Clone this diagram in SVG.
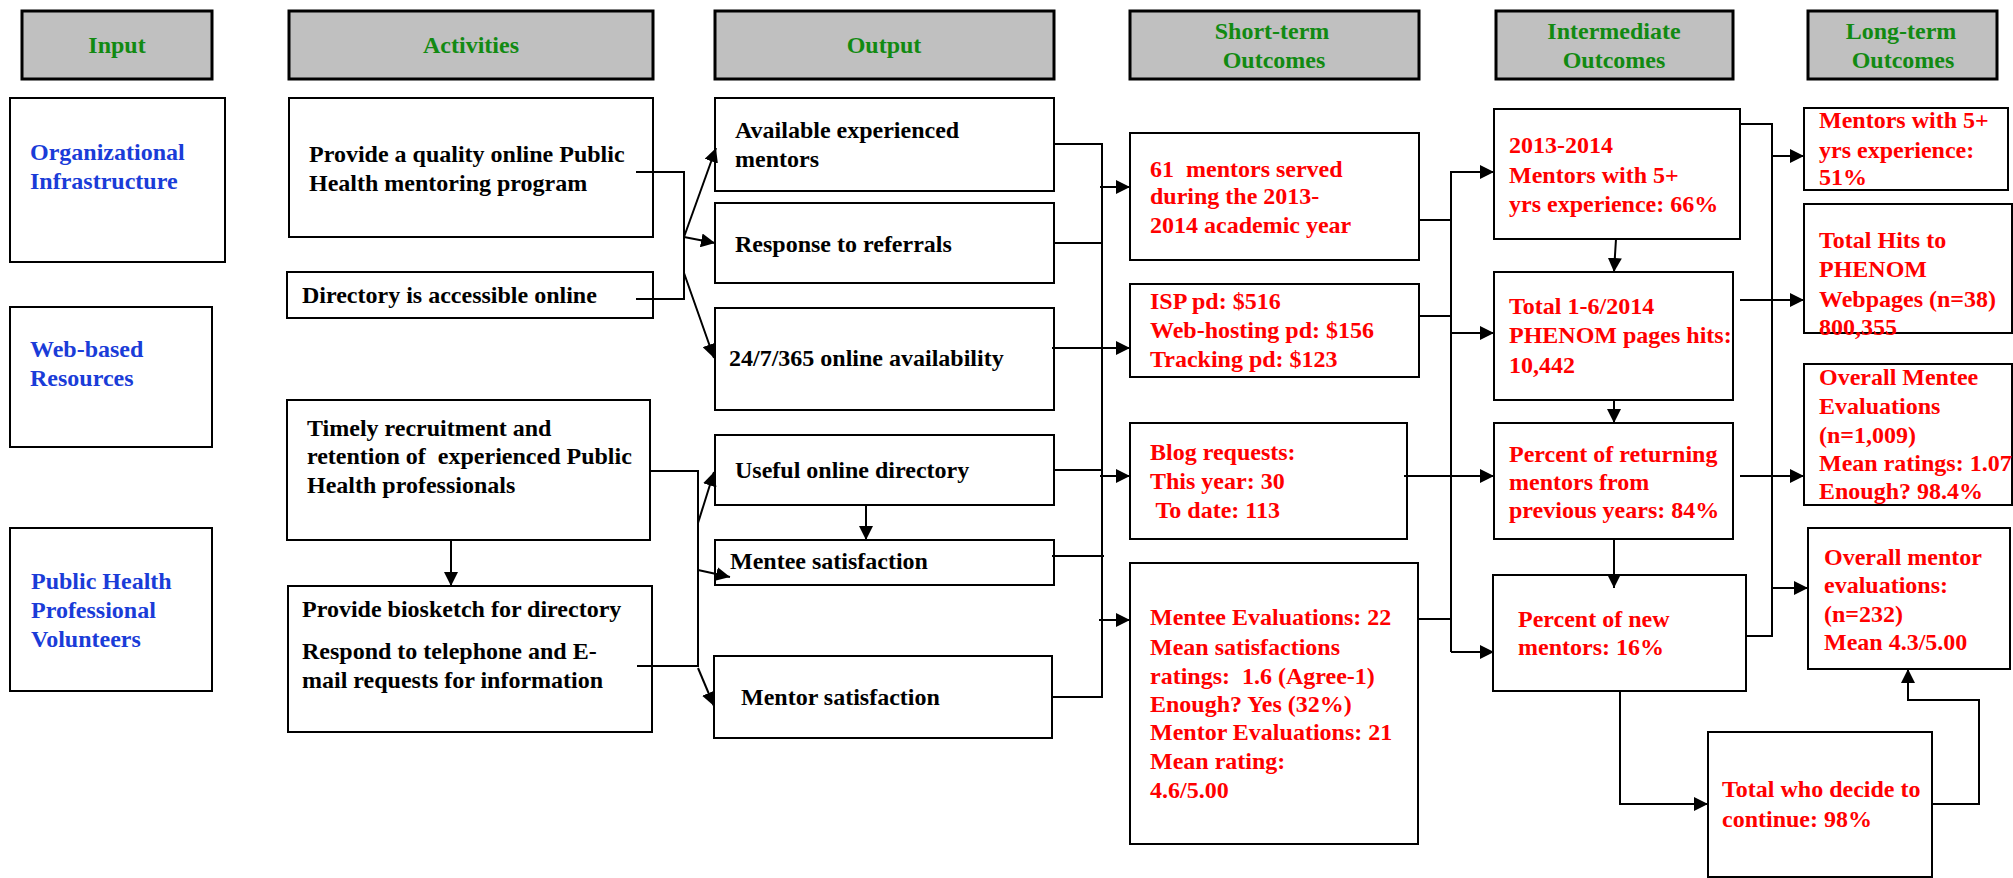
<svg xmlns="http://www.w3.org/2000/svg" width="2013" height="878" viewBox="0 0 2013 878">
<style>
.hdr{fill:#c0c0c0;stroke:#000;stroke-width:3}
.box{fill:#fff;stroke:#000;stroke-width:2}
text{font-family:"Liberation Serif","Times New Roman",serif;font-weight:bold;font-size:24px;white-space:pre}
.g{fill:#128a12;text-anchor:middle}
.b{fill:#1a3cd8}
.k{fill:#000}
.r{fill:#ff0000}
.c{fill:none;stroke:#000;stroke-width:2}
.a{marker-end:url(#ah)}
</style>
<defs>
<marker id="ah" markerWidth="14" markerHeight="14" refX="14" refY="7" orient="auto" markerUnits="userSpaceOnUse"><path d="M0,0 L14,7 L0,14 z" fill="#000"/></marker>
</defs>
<rect width="2013" height="878" fill="#fff"/>

<g id="h-input"><rect class="hdr" x="22" y="11" width="190" height="68"/><text class="g" x="117" y="53">Input</text></g>
<g id="h-activities"><rect class="hdr" x="289" y="11" width="364" height="68"/><text class="g" x="471" y="53">Activities</text></g>
<g id="h-output"><rect class="hdr" x="715" y="11" width="339" height="68"/><text class="g" x="884" y="53">Output</text></g>
<g id="h-short"><rect class="hdr" x="1130" y="11" width="289" height="68"/><text class="g" x="1272" y="39">Short-term</text><text class="g" x="1274" y="68">Outcomes</text></g>
<g id="h-inter"><rect class="hdr" x="1496" y="11" width="237" height="68"/><text class="g" x="1614" y="39">Intermediate</text><text class="g" x="1614" y="68">Outcomes</text></g>
<g id="h-long"><rect class="hdr" x="1808" y="11" width="189" height="68"/><text class="g" x="1901" y="39">Long-term</text><text class="g" x="1903" y="68">Outcomes</text></g>

<g id="in-org"><rect class="box" x="10" y="98" width="215" height="164"/><text class="b" x="30" y="160">Organizational</text><text class="b" x="30" y="189">Infrastructure</text></g>
<g id="in-web"><rect class="box" x="10" y="307" width="202" height="140"/><text class="b" x="30" y="357">Web-based</text><text class="b" x="30" y="386">Resources</text></g>
<g id="in-ph"><rect class="box" x="10" y="528" width="202" height="163"/><text class="b" x="31" y="589">Public Health</text><text class="b" x="31" y="618">Professional</text><text class="b" x="31" y="647">Volunteers</text></g>

<g id="act-quality"><rect class="box" x="289" y="98" width="364" height="139"/><text class="k" x="309" y="162">Provide a quality online Public</text><text class="k" x="309" y="191">Health mentoring program</text></g>
<g id="act-directory"><rect class="box" x="287" y="272" width="366" height="46"/><text class="k" x="302" y="303">Directory is accessible online</text></g>
<g id="act-timely"><rect class="box" x="287" y="400" width="363" height="140"/><text class="k" x="307" y="436">Timely recruitment and</text><text class="k" x="307" y="464" xml:space="preserve">retention of  experienced Public</text><text class="k" x="307" y="493">Health professionals</text></g>
<g id="act-biosketch"><rect class="box" x="288" y="586" width="364" height="146"/><text class="k" x="302" y="617">Provide biosketch for directory</text><text class="k" x="302" y="659">Respond to telephone and E-</text><text class="k" x="302" y="688">mail requests for information</text></g>

<g id="out-available"><rect class="box" x="715" y="98" width="339" height="93"/><text class="k" x="735" y="138">Available experienced</text><text class="k" x="735" y="167">mentors</text></g>
<g id="out-response"><rect class="box" x="715" y="203" width="339" height="80"/><text class="k" x="735" y="252">Response to referrals</text></g>
<g id="out-247"><rect class="box" x="715" y="308" width="339" height="102"/><text class="k" x="729" y="366">24/7/365 online availability</text></g>
<g id="out-useful"><rect class="box" x="715" y="435" width="339" height="70"/><text class="k" x="735" y="478">Useful online directory</text></g>
<g id="out-mentee"><rect class="box" x="715" y="540" width="339" height="45"/><text class="k" x="730" y="569">Mentee satisfaction</text></g>
<g id="out-mentor"><rect class="box" x="714" y="656" width="338" height="82"/><text class="k" x="741" y="705">Mentor satisfaction</text></g>

<g id="st-mentors"><rect class="box" x="1130" y="133" width="289" height="127"/><text class="r" x="1150" y="177" xml:space="preserve">61  mentors served</text><text class="r" x="1150" y="204">during the 2013-</text><text class="r" x="1150" y="233">2014 academic year</text></g>
<g id="st-isp"><rect class="box" x="1130" y="284" width="289" height="93"/><text class="r" x="1150" y="309">ISP pd: $516</text><text class="r" x="1150" y="338">Web-hosting pd: $156</text><text class="r" x="1150" y="367">Tracking pd: $123</text></g>
<g id="st-blog"><rect class="box" x="1130" y="423" width="277" height="116"/><text class="r" x="1150" y="460">Blog requests:</text><text class="r" x="1150" y="489">This year: 30</text><text class="r" x="1150" y="518" xml:space="preserve"> To date: 113</text></g>
<g id="st-evals"><rect class="box" x="1130" y="563" width="288" height="281"/><text class="r" x="1150" y="625">Mentee Evaluations: 22</text><text class="r" x="1150" y="655">Mean satisfactions</text><text class="r" x="1150" y="684" xml:space="preserve">ratings:  1.6 (Agree-1)</text><text class="r" x="1150" y="712">Enough? Yes (32%)</text><text class="r" x="1150" y="740">Mentor Evaluations: 21</text><text class="r" x="1150" y="769">Mean rating:</text><text class="r" x="1150" y="798">4.6/5.00</text></g>

<g id="im-2013"><rect class="box" x="1494" y="109" width="246" height="130"/><text class="r" x="1509" y="153">2013-2014</text><text class="r" x="1509" y="183">Mentors with 5+</text><text class="r" x="1509" y="212">yrs experience: 66%</text></g>
<g id="im-hits"><rect class="box" x="1494" y="272" width="239" height="128"/><text class="r" x="1509" y="314">Total 1-6/2014</text><text class="r" x="1509" y="343">PHENOM pages hits:</text><text class="r" x="1509" y="373">10,442</text></g>
<g id="im-returning"><rect class="box" x="1494" y="423" width="239" height="116"/><text class="r" x="1509" y="462">Percent of returning</text><text class="r" x="1509" y="490">mentors from</text><text class="r" x="1509" y="518">previous years: 84%</text></g>
<g id="im-new"><rect class="box" x="1493" y="575" width="253" height="116"/><text class="r" x="1518" y="627">Percent of new</text><text class="r" x="1518" y="655">mentors: 16%</text></g>
<g id="im-continue"><rect class="box" x="1708" y="732" width="224" height="145"/><text class="r" x="1722" y="797">Total who decide to</text><text class="r" x="1722" y="827">continue: 98%</text></g>

<g id="lt-mentors"><rect class="box" x="1804" y="108" width="204" height="82"/><text class="r" x="1819" y="128">Mentors with 5+</text><text class="r" x="1819" y="158">yrs experience:</text><text class="r" x="1819" y="185">51%</text></g>
<g id="lt-hits"><rect class="box" x="1804" y="204" width="208" height="129"/><text class="r" x="1819" y="248">Total Hits to</text><text class="r" x="1819" y="277">PHENOM</text><text class="r" x="1819" y="307">Webpages (n=38)</text><text class="r" x="1819" y="335">800,355</text></g>
<g id="lt-mentee"><rect class="box" x="1804" y="364" width="208" height="141"/><text class="r" x="1819" y="385">Overall Mentee</text><text class="r" x="1819" y="414">Evaluations</text><text class="r" x="1819" y="443">(n=1,009)</text><text class="r" x="1819" y="471">Mean ratings: 1.07</text><text class="r" x="1819" y="499">Enough? 98.4%</text></g>
<g id="lt-mentor"><rect class="box" x="1808" y="528" width="202" height="141"/><text class="r" x="1824" y="565">Overall mentor</text><text class="r" x="1824" y="593">evaluations:</text><text class="r" x="1824" y="622">(n=232)</text><text class="r" x="1824" y="650">Mean 4.3/5.00</text></g>

<g id="connectors">
<path class="c" d="M636,172 H684 V299 H636"/>
<path class="c a" d="M684,237 L716,148"/>
<path class="c a" d="M684,237 L715,243"/>
<path class="c a" d="M684,273 L714,358"/>
<path class="c" d="M650,471 H698 V666 H637"/>
<path class="c a" d="M698,523 L714,472"/>
<path class="c a" d="M698,570 L730,577"/>
<path class="c a" d="M698,668 L714,706"/>
<path class="c a" d="M451,540 V586"/>
<path class="c a" d="M866,505 V540"/>
<path class="c" d="M1054,144 H1102 V697 H1052"/>
<path class="c" d="M1054,243 H1102"/>
<path class="c" d="M1054,470 H1102"/>
<path class="c" d="M1052,556 H1104"/>
<path class="c a" d="M1100,187 H1130"/>
<path class="c a" d="M1052,348 H1130"/>
<path class="c a" d="M1100,476 H1130"/>
<path class="c a" d="M1099,620 H1130"/>
<path class="c a" d="M1451,652 V172 H1494"/>
<path class="c a" d="M1451,652 H1494"/>
<path class="c" d="M1419,220 H1451"/>
<path class="c" d="M1419,316 H1451"/>
<path class="c a" d="M1451,333 H1494"/>
<path class="c a" d="M1404,476 H1494"/>
<path class="c" d="M1418,619 H1451"/>
<path class="c a" d="M1616,239 L1614,272"/>
<path class="c a" d="M1614,400 V423"/>
<path class="c a" d="M1614,539 V588"/>
<path class="c a" d="M1620,691 V804 H1708"/>
<path class="c a" d="M1932,804 H1979 V700 H1908 V669"/>
<path class="c" d="M1740,124 H1772 V636 H1746"/>
<path class="c a" d="M1772,156 H1804"/>
<path class="c a" d="M1772,588 H1808"/>
<path class="c a" d="M1740,300 H1804"/>
<path class="c a" d="M1740,476 H1804"/>
</g>
</svg>
